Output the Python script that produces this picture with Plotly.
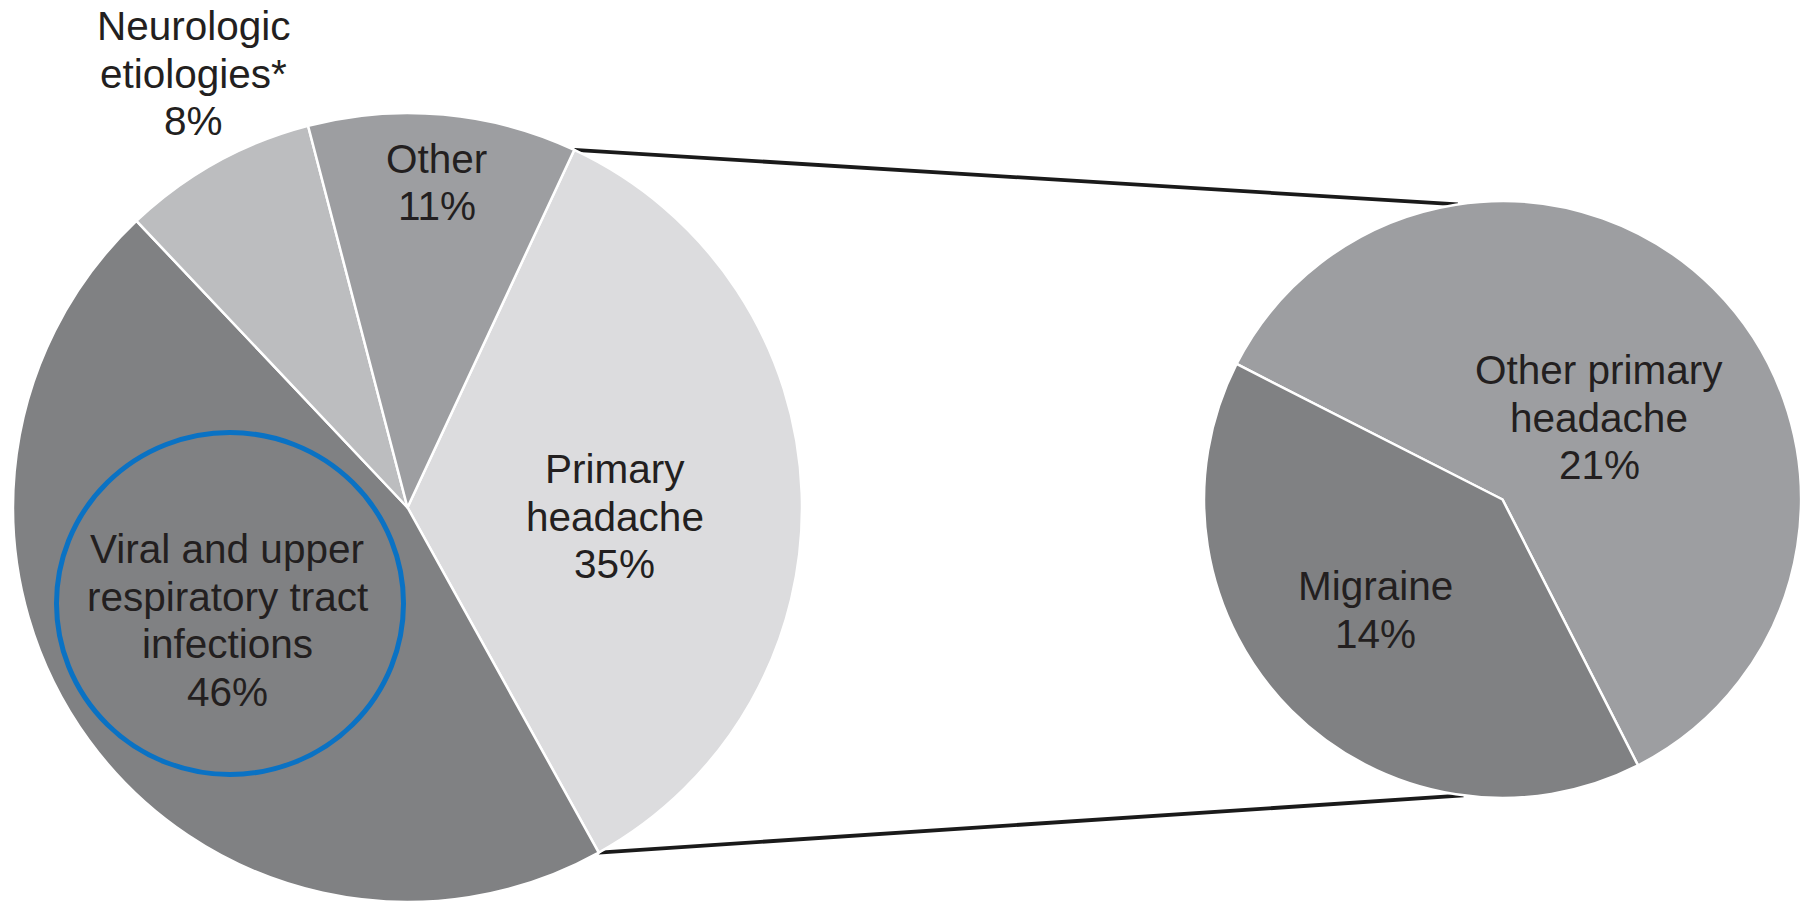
import math
import plotly.graph_objects as go

# ---------------- data ----------------
main_labels = ["Primary\nheadache", "Viral and upper\nrespiratory tract\ninfections",
               "Neurologic\netiologies*", "Other"]
main_values = [35, 46, 8, 11]
main_colors = ["#dcdcde", "#808183", "#bcbdbf", "#9d9ea1"]

sub_labels = ["Other primary\nheadache", "Migraine"]
sub_values = [21, 14]
sub_colors = ["#9d9ea1", "#808183"]

# ---------------- layout constants (pixels) ----------------
W, H = 1801, 903
FONT = "Liberation Sans, Arial, Helvetica, sans-serif"
FS = 40.5
LINE_H = 47.5
TXT = "#231f20"

main_rot = 25
sub_rot = -63

# pie boxes (pixel): left, right, top, bottom
main_box = (13, 802, 113, 902)
sub_box = (1204, 1801, 201, 798)


def dom(box):
    l, r, t, b = box
    return dict(x=[l / W, r / W], y=[1 - b / H, 1 - t / H])


def geom(box):
    l, r, t, b = box
    cx, cy = (l + r) / 2, (t + b) / 2
    rad = min(r - l, b - t) / 2
    return cx, cy, rad


def polar(g, ang):
    cx, cy, rad = g
    a = math.radians(ang)
    return cx + rad * math.sin(a), cy - rad * math.cos(a)


fig = go.Figure()
fig.add_trace(go.Pie(
    labels=[s.replace("\n", " ") for s in main_labels], values=main_values,
    sort=False, direction="clockwise", rotation=main_rot,
    marker=dict(colors=main_colors, line=dict(color="white", width=2.5)),
    textinfo="none", domain=dom(main_box), showlegend=False,
))
fig.add_trace(go.Pie(
    labels=[s.replace("\n", " ") for s in sub_labels], values=sub_values,
    sort=False, direction="clockwise", rotation=sub_rot,
    marker=dict(colors=sub_colors, line=dict(color="white", width=2.5)),
    textinfo="none", domain=dom(sub_box), showlegend=False,
))

# ---------------- labels ----------------
# label anchor (centre x, y of first line) in pixels
main_label_pos = [(614.5, 469), (227, 549), (193.5, 26), (436.5, 159)]
sub_label_pos = [(1599, 370), (1375, 586)]

annotations = []


def add_label(text, val, pos):
    lines = text.split("\n") + [f"{val}%"]
    x, y = pos
    for i, ln in enumerate(lines):
        annotations.append(dict(
            x=x / W, y=1 - (y + i * LINE_H) / H, xref="paper", yref="paper",
            text=ln, showarrow=False, xanchor="center", yanchor="middle",
            font=dict(family=FONT, size=FS, color=TXT)))


for t, v, p in zip(main_labels, main_values, main_label_pos):
    add_label(t, v, p)
for t, v, p in zip(sub_labels, sub_values, sub_label_pos):
    add_label(t, v, p)

# ---------------- connector lines ----------------
gm = geom(main_box)
gs = geom(sub_box)
total = sum(main_values)
a_start = main_rot
a_end = main_rot + 360 * main_values[0] / total
p1 = polar(gm, a_start)
p2 = polar(gm, a_end)
q1 = polar(gs, -8.6)
q2 = polar(gs, 187.5)

shapes = []
for (xa, ya), (xb, yb) in [(p1, q1), (p2, q2)]:
    shapes.append(dict(type="line", xref="paper", yref="paper",
                       x0=xa / W, y0=1 - ya / H, x1=xb / W, y1=1 - yb / H,
                       line=dict(color="#1a1a1a", width=3.8), layer="below"))

# blue highlight circle
shapes.append(dict(type="circle", xref="paper", yref="paper",
                   x0=56.5 / W, x1=403.5 / W, y0=1 - 774.5 / H, y1=1 - 432.5 / H,
                   line=dict(color="#0a72c4", width=5)))

fig.update_layout(
    width=W, height=H, margin=dict(l=0, r=0, t=0, b=0),
    paper_bgcolor="white", plot_bgcolor="white",
    annotations=annotations, shapes=shapes,
)

fig.write_html("out.html")
